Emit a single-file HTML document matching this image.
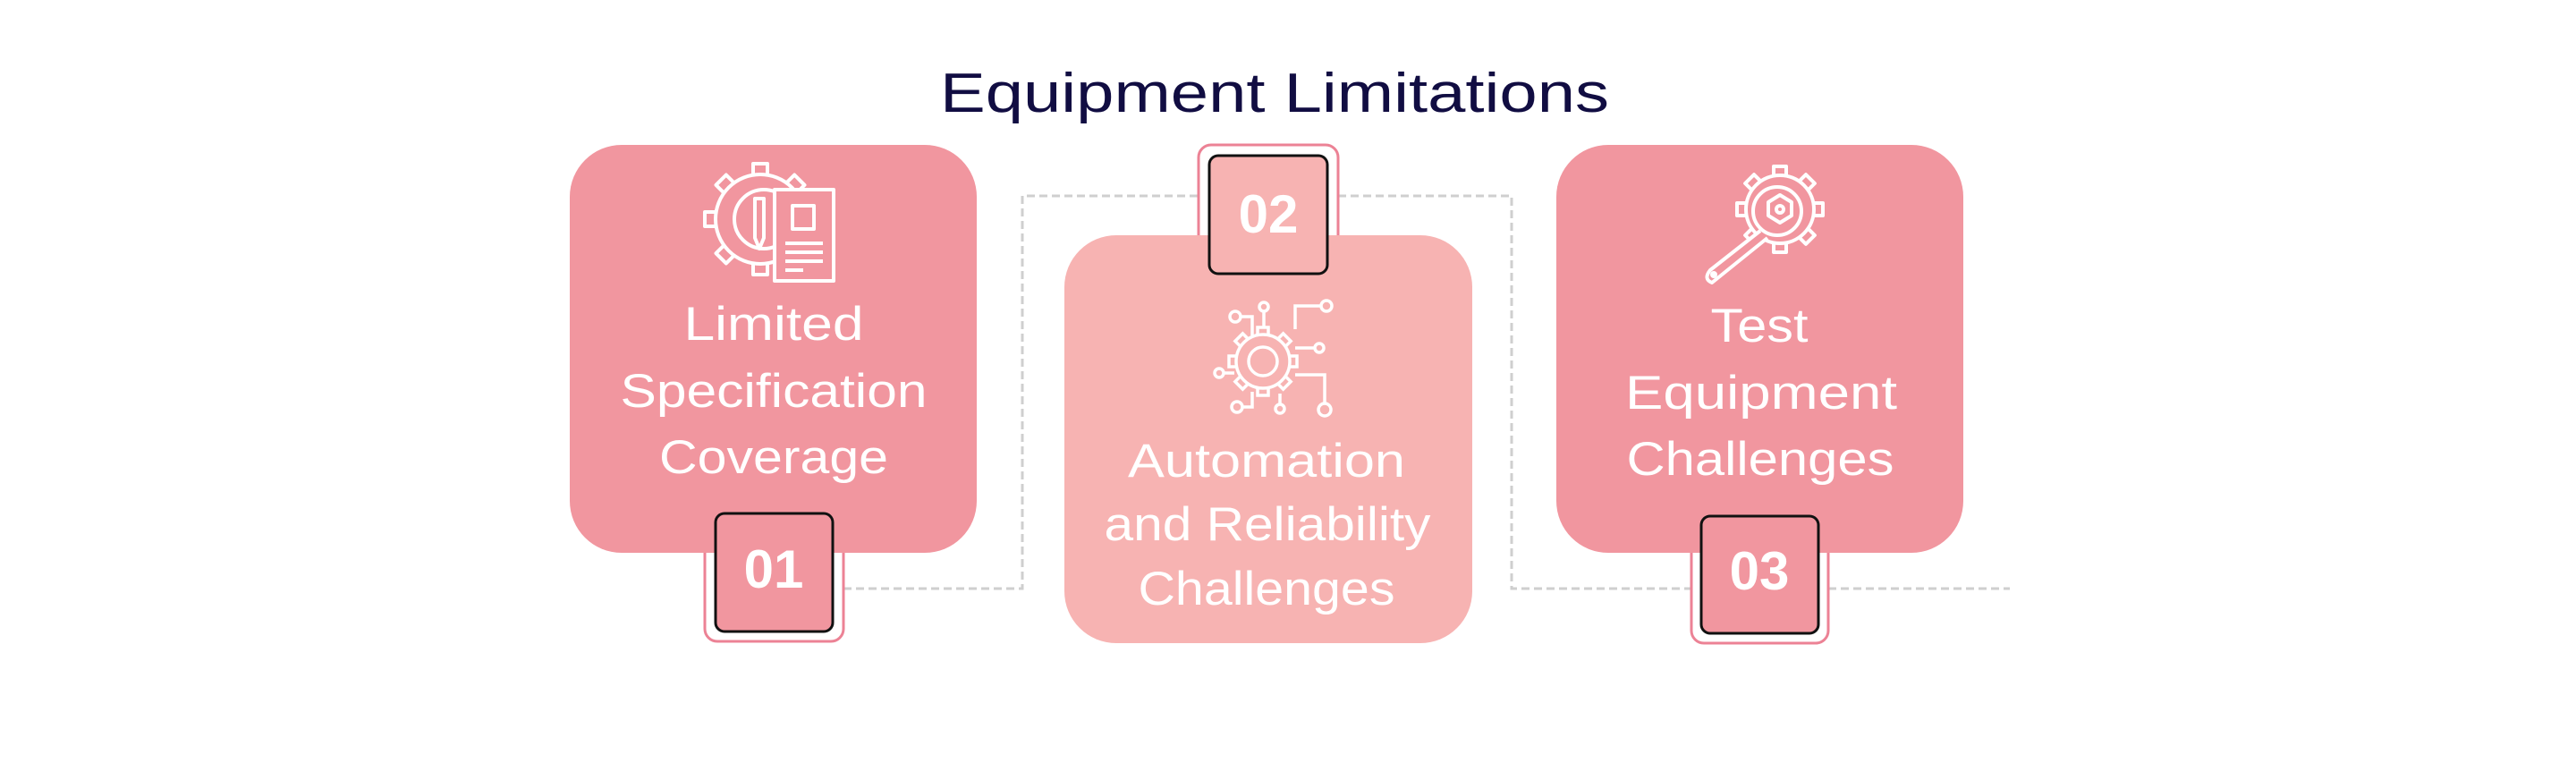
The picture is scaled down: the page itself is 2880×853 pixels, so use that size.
<!DOCTYPE html>
<html><head><meta charset="utf-8"><style>
html,body{margin:0;padding:0;background:#fff;}
svg{display:block;}
text{font-family:"Liberation Sans",sans-serif;}
</style></head><body>
<svg width="2880" height="853" viewBox="0 0 2880 853" xmlns="http://www.w3.org/2000/svg">
<rect width="2880" height="853" fill="#fff"/>
<text x="1425" y="125" font-size="62" fill="#110d42" text-anchor="middle" textLength="748" lengthAdjust="spacingAndGlyphs">Equipment Limitations</text>

<g fill="none" stroke="#cfcfcf" stroke-width="3" stroke-dasharray="9,5">
<path d="M943 658 H1143 V219 H1340"/>
<path d="M1496 219 H1690 V658 H1891"/>
<path d="M2044 658 H2247"/>
</g>

<g fill="#fff" stroke="#ec8295" stroke-width="3">
<rect x="788" y="560" width="155" height="157" rx="14"/>
<rect x="1340" y="162" width="156" height="160" rx="14"/>
<rect x="1891" y="560" width="153" height="159" rx="14"/>
</g>

<rect x="637" y="162" width="455" height="456" rx="58" fill="#f1969f"/>
<rect x="1190" y="263" width="456" height="456" rx="58" fill="#f7b3b2"/>
<rect x="1740" y="162" width="455" height="456" rx="58" fill="#f1969f"/>

<rect x="800" y="574" width="131" height="132" rx="10" fill="#f1969f" stroke="#111" stroke-width="3"/>
<rect x="1352" y="174" width="132" height="132" rx="10" fill="#f7b3b2" stroke="#111" stroke-width="3"/>
<rect x="1902" y="577" width="131" height="131" rx="10" fill="#f1969f" stroke="#111" stroke-width="3"/>
<g fill="#fff" font-weight="bold" font-size="60" text-anchor="middle">
<text x="865" y="657">01</text>
<text x="1418" y="260">02</text>
<text x="1967" y="659">03</text>
</g>

<g fill="#fff" font-size="53" text-anchor="middle">
<text x="865" y="380" textLength="201" lengthAdjust="spacingAndGlyphs">Limited</text>
<text x="865" y="455" textLength="343" lengthAdjust="spacingAndGlyphs">Specification</text>
<text x="865" y="529" textLength="256" lengthAdjust="spacingAndGlyphs">Coverage</text>
<text x="1416" y="533" textLength="310" lengthAdjust="spacingAndGlyphs">Automation</text>
<text x="1417" y="604" textLength="365" lengthAdjust="spacingAndGlyphs">and Reliability</text>
<text x="1416" y="676" textLength="287" lengthAdjust="spacingAndGlyphs">Challenges</text>
<text x="1967" y="382" textLength="109" lengthAdjust="spacingAndGlyphs">Test</text>
<text x="1969" y="457" textLength="304" lengthAdjust="spacingAndGlyphs">Equipment</text>
<text x="1968" y="531" textLength="299" lengthAdjust="spacingAndGlyphs">Challenges</text>
</g>

<!-- icon 1 -->
<g fill="none" stroke="#fff" stroke-width="4" stroke-linejoin="round">
<g transform="translate(850,245)">
<g fill="#f1969f">
<rect x="-8" y="-62" width="16" height="14"/>
<rect x="-8" y="-62" width="16" height="14" transform="rotate(45)"/>
<rect x="-8" y="-62" width="16" height="14" transform="rotate(-45)"/>
<rect x="-8" y="-62" width="16" height="14" transform="rotate(-90)"/>
<rect x="-8" y="-62" width="16" height="14" transform="rotate(-135)"/>
<rect x="-8" y="-62" width="16" height="14" transform="rotate(180)"/>
<rect x="-8" y="-62" width="16" height="14" transform="rotate(90)"/>
</g>
<circle r="50" fill="#f1969f"/>
<circle cx="4" r="33"/>
</g>
<rect x="866" y="212" width="66" height="102" fill="#f1969f"/>
<rect x="886" y="230" width="24" height="26"/>
<path d="M878 272 H920 M878 282 H920 M878 292 H920 M878 302 H898"/>
<path d="M844 222 V266 L849 278 L854 266 V222 Z" fill="#f1969f"/>
</g>

<!-- icon 2 -->
<g fill="none" stroke="#fff" stroke-width="3.5">
<g transform="translate(1412,404)">
<g fill="#f7b3b2">
<rect x="-6" y="-38" width="12" height="10"/>
<rect x="-6" y="-38" width="12" height="10" transform="rotate(45)"/>
<rect x="-6" y="-38" width="12" height="10" transform="rotate(90)"/>
<rect x="-6" y="-38" width="12" height="10" transform="rotate(135)"/>
<rect x="-6" y="-38" width="12" height="10" transform="rotate(180)"/>
<rect x="-6" y="-38" width="12" height="10" transform="rotate(225)"/>
<rect x="-6" y="-38" width="12" height="10" transform="rotate(270)"/>
<rect x="-6" y="-38" width="12" height="10" transform="rotate(315)"/>
</g>
<circle r="30" fill="#f7b3b2"/>
<circle r="16"/>
</g>
<circle cx="1381" cy="354" r="6"/><path d="M1387 354 H1400 V375"/>
<circle cx="1413" cy="343" r="5"/><path d="M1413 348 V366"/>
<circle cx="1483" cy="342" r="6"/><path d="M1477 342 H1448 V368"/>
<circle cx="1475" cy="389" r="5"/><path d="M1470 389 H1448"/>
<circle cx="1363" cy="417" r="5"/><path d="M1368 417 H1380"/>
<circle cx="1383" cy="455" r="6"/><path d="M1389 455 H1400 V438"/>
<circle cx="1431" cy="457" r="5"/><path d="M1431 452 V440"/>
<circle cx="1481" cy="458" r="7"/><path d="M1481 451 V419 H1448"/>
</g>

<!-- icon 3 -->
<g fill="none" stroke="#fff" stroke-width="4" stroke-linejoin="round">
<g transform="translate(1990,234)">
<g fill="#f1969f">
<rect x="-7" y="-48" width="14" height="12"/>
<rect x="-7" y="-48" width="14" height="12" transform="rotate(45)"/>
<rect x="-7" y="-48" width="14" height="12" transform="rotate(90)"/>
<rect x="-7" y="-48" width="14" height="12" transform="rotate(135)"/>
<rect x="-7" y="-48" width="14" height="12" transform="rotate(180)"/>
<rect x="-7" y="-48" width="14" height="12" transform="rotate(225)"/>
<rect x="-7" y="-48" width="14" height="12" transform="rotate(270)"/>
<rect x="-7" y="-48" width="14" height="12" transform="rotate(315)"/>
</g>
<circle r="38" fill="#f1969f"/>
<circle cx="-3" cy="2" r="27"/>
<path d="M0 -16 l13 8 0 15 -13 8 -13 -8 0 -15z"/>
<circle r="4"/>
</g>
<path d="M1968 258 L1912 302 Q1904 312 1914 316 L1976 266" fill="#f1969f"/>
<circle cx="1916" cy="307" r="2"/>
</g>
</svg>
</body></html>
